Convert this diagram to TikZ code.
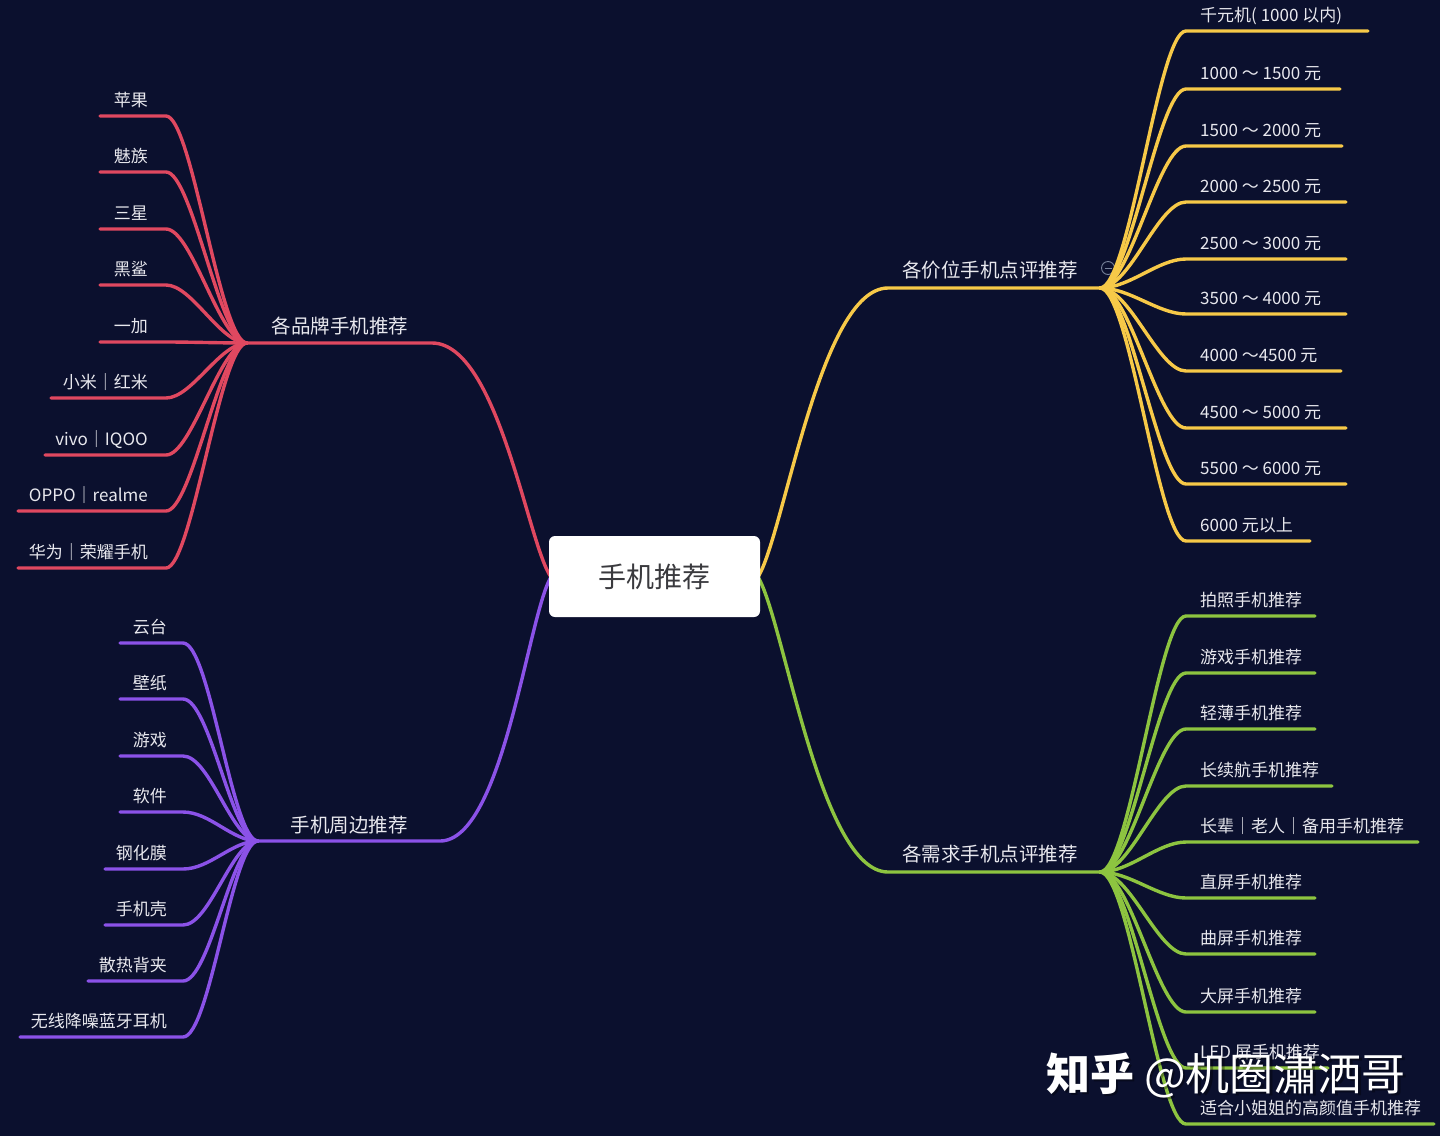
\documentclass[tikz,border=0pt]{standalone}
\usepackage{fontspec}
\setmainfont{Noto Sans CJK SC}
\definecolor{bgc}{RGB}{11,16,46}
\definecolor{cred}{RGB}{224,72,96}
\definecolor{cyel}{RGB}{247,201,72}
\definecolor{cpur}{RGB}{139,82,232}
\definecolor{cgrn}{RGB}{141,196,64}
\definecolor{txt}{RGB}{232,232,238}
\definecolor{ctr}{RGB}{58,58,62}
\definecolor{cicon}{RGB}{120,130,155}
\begin{document}
\begin{tikzpicture}[x=1pt,y=-1pt,
  br/.style={line width=3.4pt, line cap=round},
  ltxt/.style={text=txt, font=\fontsize{17}{20}\selectfont, inner sep=0pt},
  btxt/.style={text=txt, font=\fontsize{19.5}{22}\selectfont, inner sep=0pt, anchor=base}]
\fill[bgc] (0,0) rectangle (1440,1136);
\useasboundingbox (0,0) rectangle (1440,1136);

% hubs and branch points
\coordinate (hR) at (247,343);
\coordinate (hP) at (258,841);
\coordinate (hY) at (1100,288);
\coordinate (hG) at (1100,872);
\coordinate (cL) at (551,577);
\coordinate (cR) at (758,577);
\coordinate (bR) at (432,343);
\coordinate (bP) at (440,841);
\coordinate (bY) at (888,288);
\coordinate (bG) at (888,872);

% main branches
\draw[br, cred] (cL) .. controls (528,545) and (498,343) .. (bR) -- (hR);
\draw[br, cpur] (cL) .. controls (528,615) and (503,841) .. (bP) -- (hP);
\draw[br, cyel] (cR) .. controls (784,535) and (820,288) .. (bY) -- (hY);
\draw[br, cgrn] (cR) .. controls (784,620) and (820,872) .. (bG) -- (hG);

% branch labels
\node[btxt] (lR) at (340,333) {各品牌手机推荐};
\node[btxt] (lP) at (349,832) {手机周边推荐};
\node[btxt] (lY) at (990,277) {各价位手机点评推荐};
\node[btxt] (lG) at (990,861) {各需求手机点评推荐};

% collapse icon
\node[circle, draw=cicon, line width=0.9pt, minimum size=13pt, inner sep=0pt] (col) at (1108,268) {};
\draw[cicon, line width=0.9pt] ([xshift=-3.5pt]col.center) -- ([xshift=3.5pt]col.center);

% red leaves
\foreach \i/\y/\xl/\t in {1/116/100/苹果, 2/172/100/魅族, 3/229/100/三星, 4/285/100/黑鲨, 5/342/100/一加, 6/398/51/小米｜红米, 7/455/45/vivo｜IQOO, 8/511/18/OPPO｜realme, 9/568/18/华为｜荣耀手机}{
  \coordinate (re\i) at (\xl,\y);
  \draw[br, cred] (hR) .. controls (220,343) and (192,\y) .. (166,\y) -- (re\i);
  \node[ltxt, anchor=base east] (r\i) at (148,\y-10) {\t};
}

% purple leaves
\foreach \i/\y/\xl/\t in {1/643/120/云台, 2/699/120/壁纸, 3/756/120/游戏, 4/812/120/软件, 5/869/105/钢化膜, 6/925/105/手机壳, 7/981/88/散热背夹, 8/1037/20/无线降噪蓝牙耳机}{
  \coordinate (pe\i) at (\xl,\y);
  \draw[br, cpur] (hP) .. controls (232,841) and (210,\y) .. (183,\y) -- (pe\i);
  \node[ltxt, anchor=base east] (p\i) at (167,\y-10) {\t};
}

% yellow leaves
\foreach \i/\y/\xr/\t in {1/31/1368/千元机( 1000 以内), 2/89/1340/1000 ～ 1500 元, 3/146/1342/1500 ～ 2000 元, 4/202/1346/2000 ～ 2500 元, 5/259/1346/2500 ～ 3000 元, 6/314/1346/3500 ～ 4000 元, 7/371/1341/4000 ～4500 元, 8/428/1346/4500 ～ 5000 元, 9/484/1346/5500 ～ 6000 元, 10/541/1310/6000 元以上}{
  \coordinate (ye\i) at (\xr,\y);
  \draw[br, cyel] (hY) .. controls (1130,288) and (1158,\y) .. (1186,\y) -- (ye\i);
  \node[ltxt, anchor=base west] (y\i) at (1200,\y-10) {\t};
}

% green leaves
\foreach \i/\y/\xr/\t in {1/616/1315/拍照手机推荐, 2/673/1315/游戏手机推荐, 3/729/1315/轻薄手机推荐, 4/786/1332/长续航手机推荐, 5/842/1418/长辈｜老人｜备用手机推荐, 6/898/1315/直屏手机推荐, 7/954/1315/曲屏手机推荐, 8/1012/1315/大屏手机推荐, 9/1068/1328/LED 屏手机推荐, 10/1124/1434/适合小姐姐的高颜值手机推荐}{
  \coordinate (ge\i) at (\xr,\y);
  \draw[br, cgrn] (hG) .. controls (1130,872) and (1158,\y) .. (1186,\y) -- (ge\i);
  \node[ltxt, anchor=base west] (g\i) at (1200,\y-10) {\t};
}

% central node
\node[fill=white, rounded corners=6pt, minimum width=211pt, minimum height=81pt, inner sep=0pt,
      text=ctr, font=\fontsize{28}{32}\selectfont] (root) at (654.5,576.5) {手机推荐};

% watermark
\node[anchor=west, text=black, opacity=0.35, font=\fontsize{44}{48}\selectfont, inner sep=0pt] (wms) at (1048.5,1077.5) {\textbf{知乎} @机圈潚洒哥};
\node[anchor=west, text=white, font=\fontsize{44}{48}\selectfont, inner sep=0pt] (wm) at (1046,1075) {\textbf{知乎} @机圈潚洒哥};
\end{tikzpicture}
\end{document}
